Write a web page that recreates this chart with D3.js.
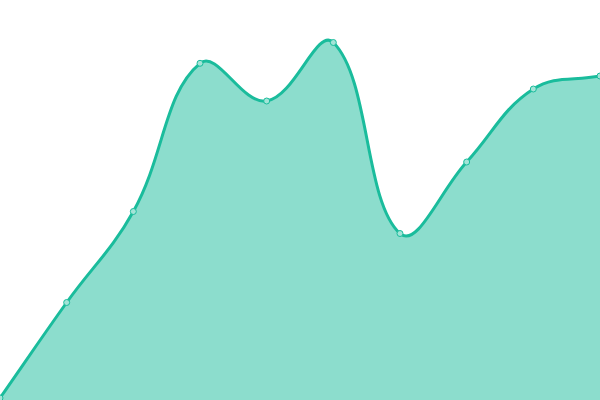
<!DOCTYPE html>
<html><head><meta charset="utf-8">
<script src="https://cdn.jsdelivr.net/npm/d3@7"></script>
<style>html,body{margin:0;padding:0;background:#fff;}svg{display:block;}</style>
</head><body>
<svg id="chart" width="600" height="400"></svg>
<script>
const categories = ["1","2","3","4","5","6","7","8","9","10"];
const values = [2, 97.5, 188.5, 336.7, 299, 357.5, 166.5, 238, 311, 324];

const W = 600, H = 400;
const svg = d3.select("#chart");
const x = d3.scalePoint().domain(categories).range([0, W]);
const y = d3.scaleLinear().domain([0, 400]).range([H, 0]);
const data = categories.map((c, i) => ({c, v: values[i]}));

// Spline curve with distance-weighted tangents (tension 0.4)
function SplineCurve(context) { this._context = context; }
SplineCurve.prototype = {
  areaStart() { this._line = 0; },
  areaEnd() { this._line = NaN; },
  lineStart() { this._pts = []; },
  point(px, py) { this._pts.push([+px, +py]); },
  lineEnd() {
    const c = this._context, p = this._pts, n = p.length, t = 0.4;
    if (n) {
      if (this._line) c.lineTo(p[0][0], p[0][1]); else c.moveTo(p[0][0], p[0][1]);
      const cpA = [], cpB = [];
      for (let i = 0; i < n; i++) {
        const pr = p[Math.max(i - 1, 0)], cu = p[i], nx = p[Math.min(i + 1, n - 1)];
        const d01 = Math.hypot(cu[0] - pr[0], cu[1] - pr[1]);
        const d12 = Math.hypot(nx[0] - cu[0], nx[1] - cu[1]);
        let s01 = d01 / (d01 + d12), s12 = d12 / (d01 + d12);
        if (!isFinite(s01)) s01 = 0; if (!isFinite(s12)) s12 = 0;
        const fa = t * s01, fb = t * s12;
        const clampX = v => Math.max(0, Math.min(W, v)), clampY = v => Math.max(0, Math.min(H, v));
        cpA.push([clampX(cu[0] - fa * (nx[0] - pr[0])), clampY(cu[1] - fa * (nx[1] - pr[1]))]);
        cpB.push([clampX(cu[0] + fb * (nx[0] - pr[0])), clampY(cu[1] + fb * (nx[1] - pr[1]))]);
      }
      for (let i = 1; i < n; i++) {
        c.bezierCurveTo(cpB[i - 1][0], cpB[i - 1][1], cpA[i][0], cpA[i][1], p[i][0], p[i][1]);
      }
    }
    if (this._line || (this._line !== 0 && n === 1)) c.closePath();
    this._line = 1 - this._line;
  }
};
const curve = ctx => new SplineCurve(ctx);

const area = d3.area().x(d => x(d.c)).y0(H).y1(d => y(d.v)).curve(curve);
const line = d3.line().x(d => x(d.c)).y(d => y(d.v)).curve(curve);

svg.append("path").datum(data).attr("d", area)
  .attr("fill", "#1abc9c").attr("fill-opacity", 0.5);
svg.append("path").datum(data).attr("d", line)
  .attr("fill", "none").attr("stroke", "#1abc9c").attr("stroke-width", 3);
svg.selectAll("circle").data(data).join("circle")
  .attr("cx", d => x(d.c)).attr("cy", d => y(d.v)).attr("r", 3)
  .attr("fill", "#a3e4d7").attr("stroke", "#1abc9c").attr("stroke-width", 1);
</script>
</body></html>
